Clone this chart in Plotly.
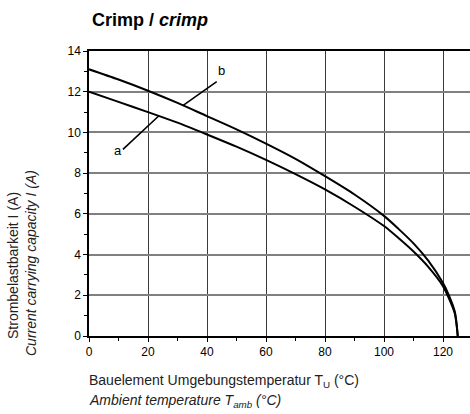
import plotly.graph_objects as go

# Ambient temperature (°C) and current carrying capacity (A) for the two crimp curves
temp = [0, 10, 20, 30, 40, 50, 60, 70, 80, 90, 100, 105, 110, 115, 120, 122, 124, 125]
curve_b = [13.1, 12.6, 12.05, 11.45, 10.8, 10.15, 9.45, 8.7, 7.85, 6.95, 5.9, 5.25, 4.55, 3.7, 2.6, 2.0, 1.2, 0.0]
curve_a = [12.0, 11.5, 11.0, 10.48, 9.9, 9.3, 8.65, 7.95, 7.2, 6.35, 5.4, 4.8, 4.15, 3.4, 2.45, 1.85, 1.1, 0.0]

x_ticks = [0, 20, 40, 60, 80, 100, 120]
y_ticks = [0, 2, 4, 6, 8, 10, 12, 14]

# Curve labels with their leader lines (data coordinates)
label_b = dict(text="b", x=45.0, y=13.05, leader=([43.3, 31.8], [12.5, 11.32]))
label_a = dict(text="a", x=9.7, y=9.1, leader=([11.5, 23.8], [9.17, 10.83]))

W, H = 470, 414
L, R, T, B = 89, 0, 51, 78
PW, PH = W - L - R, H - T - B


def px(x):
    return (x - L) / PW


def py(y):
    return (H - B - y) / PH


FONT = "Liberation Sans, Arial, sans-serif"

fig = go.Figure()

for ys in (curve_b, curve_a):
    fig.add_trace(go.Scatter(
        x=temp, y=ys, mode="lines",
        line=dict(color="black", width=2, shape="spline", smoothing=0.8),
        hoverinfo="skip", showlegend=False,
    ))

for lab in (label_b, label_a):
    lx, ly = lab["leader"]
    fig.add_trace(go.Scatter(
        x=lx, y=ly, mode="lines",
        line=dict(color="black", width=1.6),
        hoverinfo="skip", showlegend=False,
    ))

annotations = [
    dict(text=label_b["text"], x=label_b["x"], y=label_b["y"], xref="x", yref="y",
         showarrow=False, font=dict(family=FONT, size=13, color="black")),
    dict(text=label_a["text"], x=label_a["x"], y=label_a["y"], xref="x", yref="y",
         showarrow=False, font=dict(family=FONT, size=13, color="black")),
    # title
    dict(text="<b>Crimp / <i>crimp</i></b>", x=px(90), y=py(20), xref="paper", yref="paper",
         xanchor="left", yanchor="middle", showarrow=False,
         font=dict(family=FONT, size=18, color="black")),
    # x-axis title, two lines
    dict(text="Bauelement Umgebungstemperatur T<sub>U</sub> (°C)", x=px(87), y=py(381),
         xref="paper", yref="paper", xanchor="left", yanchor="middle", showarrow=False,
         font=dict(family=FONT, size=14, color="#222")),
    dict(text="<i>Ambient temperature T<sub>amb</sub> (°C)</i>", x=px(87), y=py(401),
         xref="paper", yref="paper", xanchor="left", yanchor="middle", showarrow=False,
         font=dict(family=FONT, size=14, color="#222")),
    # y-axis title, two lines
    dict(text="Strombelastbarkeit I (A)", x=px(13), y=py(266), textangle=-90,
         xref="paper", yref="paper", xanchor="center", yanchor="middle", showarrow=False,
         font=dict(family=FONT, size=14, color="#222")),
    dict(text="<i>Current carrying capacity I (A)</i>", x=px(31), y=py(263), textangle=-90,
         xref="paper", yref="paper", xanchor="center", yanchor="middle", showarrow=False,
         font=dict(family=FONT, size=14, color="#222")),
]

fig.update_layout(
    width=W, height=H,
    margin=dict(l=L, r=R, t=T, b=B, pad=0),
    paper_bgcolor="white", plot_bgcolor="white",
    annotations=annotations,
    xaxis=dict(
        range=[0, (W - L) / 2.95], tickvals=x_ticks,
        showgrid=True, gridcolor="#3a3a3a", gridwidth=1,
        showline=True, linecolor="black", linewidth=2, mirror=True,
        ticks="outside", ticklen=4, tickcolor="black", tickwidth=1,
        minor=dict(dtick=10, ticks="outside", ticklen=3, tickcolor="black", showgrid=False),
        tickfont=dict(family=FONT, size=12, color="black"),
        zeroline=False, fixedrange=True,
    ),
    yaxis=dict(
        range=[0, 14], tickvals=y_ticks,
        showgrid=True, gridcolor="#808080", gridwidth=1.6,
        showline=True, linecolor="black", linewidth=1.5,
        ticks="outside", ticklen=4, tickcolor="black", tickwidth=1,
        minor=dict(dtick=1, ticks="outside", ticklen=3, tickcolor="black", showgrid=False),
        tickfont=dict(family=FONT, size=12, color="black"),
        zeroline=False, fixedrange=True,
    ),
)

fig.write_html("out.html")
